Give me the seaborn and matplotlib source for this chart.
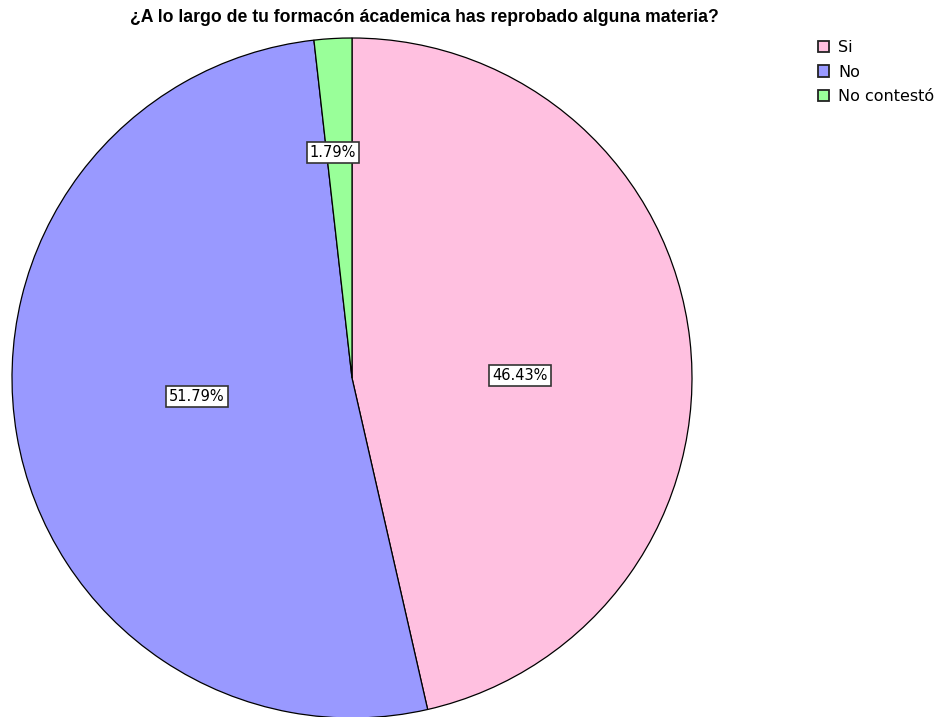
import numpy as np
import seaborn as sns
import matplotlib.pyplot as plt

# Data: respuestas (n = 56)
categorias = ['Si', 'No', 'No contestó']
conteos = [26, 29, 1]
colores = ['#FFC0E0', '#9999FF', '#99FF99']
# ubicación de cada etiqueta: distancia radial y giro (grados) respecto al centro del sector
distancias = [0.494, 0.459, 0.665]
giros = [-5.7, -2.9, 1.6]

sns.set_style('white')
plt.rcParams['font.family'] = ['Liberation Sans', 'DejaVu Sans']
plt.rcParams['text.color'] = 'black'

fig = plt.figure(figsize=(9.49, 7.17), dpi=100)
W, H = 949, 717
ax = fig.add_axes([12 / W, (717 - 718) / H, 680 / W, 680 / H])

wedges, texts, autotexts = ax.pie(
    conteos, colors=colores, startangle=90, counterclock=False,
    autopct='%1.2f%%', pctdistance=0.5,
    wedgeprops=dict(edgecolor='black', linewidth=0.9),
    textprops=dict(fontsize=10.5, family='DejaVu Sans', color='black'))

for w, t, d, g in zip(wedges, autotexts, distancias, giros):
    ang = np.deg2rad((w.theta1 + w.theta2) / 2 + g)
    t.set_position((d * np.cos(ang), d * np.sin(ang)))
    t.set_bbox(dict(boxstyle='square,pad=0.2', facecolor='white',
                    edgecolor='#333333', linewidth=1.2))

ax.set_xlim(-1, 1)
ax.set_ylim(-1, 1)
ax.set_aspect('equal')

fig.text(0.447, 1 - 17 / H, '¿A lo largo de tu formacón ácademica has reprobado alguna materia?',
         ha='center', va='center', fontsize=12.7, fontweight='bold', color='black')

leg = fig.legend(wedges, categorias, loc='upper left', bbox_to_anchor=(818 / W, 1 - 40 / H),
                 frameon=False, prop=dict(family='DejaVu Sans', size=11.5),
                 handlelength=0.7, handleheight=0.7,
                 handletextpad=0.55, labelspacing=0.6, borderpad=0, borderaxespad=0)
for h in leg.legend_handles:
    h.set_linewidth(1.3)
    h.set_edgecolor('#222222')

plt.savefig('out.png', dpi=100)
